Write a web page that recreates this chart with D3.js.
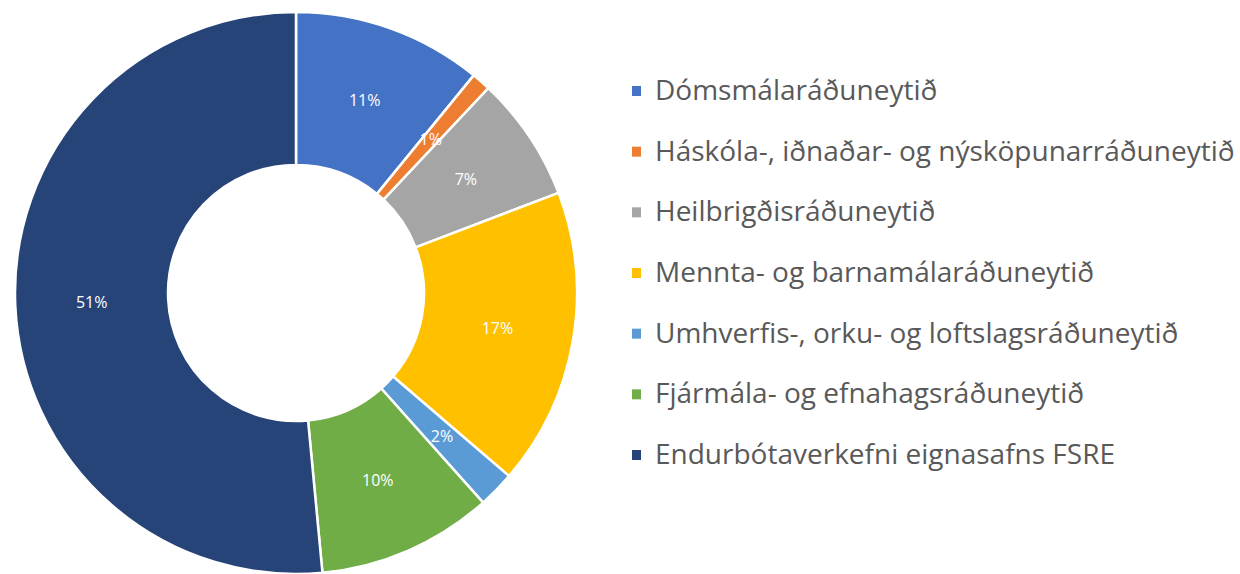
<!DOCTYPE html>
<html>
<head>
<meta charset="utf-8">
<script src="https://cdn.jsdelivr.net/npm/d3@7"></script>
<style>
  body { margin: 0; background: #fff; }
  text { font-family: "Open Sans", sans-serif; }
</style>
</head>
<body>
<div id="chart"></div>
<script>
var svgWidth = 1240;
var svgHeight = 574;

// data
var categories = [
    "Dómsmálaráðuneytið",
    "Háskóla-, iðnaðar- og nýsköpunarráðuneytið",
    "Heilbrigðisráðuneytið",
    "Mennta- og barnamálaráðuneytið",
    "Umhverfis-, orku- og loftslagsráðuneytið",
    "Fjármála- og efnahagsráðuneytið",
    "Endurbótaverkefni eignasafns FSRE"
];
var shares = [10.9, 1.1, 7.2, 17.1, 2.1, 10.1, 51.5];
var labels = ["11%", "1%", "7%", "17%", "2%", "10%", "51%"];
var colors = ["#4472C4", "#ED7D31", "#A5A5A5", "#FFC000", "#5B9BD5", "#70AD47", "#264478"];

var cx = 296, cy = 293;
var outerR = 281, innerR = 128;

var svg = d3.select("#chart")
    .append("svg")
    .attr("width", svgWidth)
    .attr("height", svgHeight);

var pie = d3.pie().sort(null).value(d => d);
var arc = d3.arc().innerRadius(innerR).outerRadius(outerR);
var labelArc = d3.arc().innerRadius((innerR + outerR) / 2).outerRadius((innerR + outerR) / 2);

var donut = svg.append("g")
    .attr("transform", `translate(${cx}, ${cy})`);

var slices = pie(shares);

donut.selectAll("path")
    .data(slices)
    .enter()
    .append("path")
    .attr("d", arc)
    .attr("fill", (d, i) => colors[i])
    .attr("stroke", "#fff")
    .attr("stroke-width", 2.5);

donut.selectAll("text")
    .data(slices)
    .enter()
    .append("text")
    .attr("transform", d => `translate(${labelArc.centroid(d)})`)
    .attr("text-anchor", "middle")
    .attr("dy", "0.35em")
    .attr("fill", "#fff")
    .style("font-size", "16px")
    .text((d, i) => labels[i]);

// legend
var legendY = d3.scalePoint()
    .domain(categories)
    .range([91, 455]);

var legend = svg.append("g");

var rows = legend.selectAll("g")
    .data(categories)
    .enter()
    .append("g")
    .attr("transform", d => `translate(632, ${legendY(d)})`);

rows.append("rect")
    .attr("x", 0)
    .attr("y", -5)
    .attr("width", 9)
    .attr("height", 10)
    .attr("fill", (d, i) => colors[i]);

rows.append("text")
    .attr("x", 23)
    .attr("y", 9)
    .attr("fill", "#595959")
    .style("font-size", "28px")
    .text(d => d);
</script>
</body>
</html>
